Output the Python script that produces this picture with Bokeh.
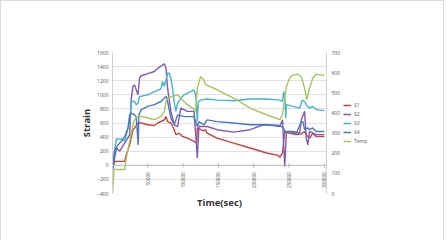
import math
from bokeh.plotting import figure
from bokeh.layouts import row
from bokeh.models import Range1d, LinearAxis, FixedTicker, Legend, LegendItem, Title, Span
from bokeh.core.properties import value
from bokeh.embed import file_html
from bokeh.resources import INLINE

# ---- data ----
s1_t = [0, 3300, 17300, 19600, 24300, 29000, 31300, 36000, 40700, 50000, 59300, 64000, 73400, 75700,
        78000, 82700, 87400, 89700, 94400, 99100, 106100, 115400, 119200, 120100, 124800, 129400, 131800,
        134100, 148100, 171500, 194900, 218200, 234600, 236900, 240700, 243900, 250900, 260300, 267300,
        272000, 274300, 279000, 283600, 288300, 300000]
s1_v = [-60, 55, 55, 150, 290, 505, 530, 600, 600, 575, 565, 600, 645, 690,
        620, 600, 505, 435, 455, 410, 385, 340, 315, 530, 505, 490, 505,
        455, 385, 315, 245, 175, 140, 113, 175, 480, 455, 435, 445,
        480, 435, 385, 455, 410, 410]

s2_t = [0, 5600, 10300, 24300, 26600, 29000, 31300, 33600, 36000, 38300, 40700, 50000, 59300, 64000,
        73400, 75700, 78000, 82700, 87400, 92100, 96700, 106100, 115400, 117800, 120100, 122400, 124800,
        134100, 148100, 171500, 194900, 213600, 227600, 236900, 240700, 243900, 246300, 255600, 265000,
        267300, 272000, 274300, 276600, 279000, 288300, 300000]
s2_v = [-60, 245, 200, 430, 950, 1120, 1140, 1070, 1000, 1235, 1270, 1300, 1330, 1375,
        1440, 1380, 1095, 765, 575, 550, 810, 765, 765, 435, 104, 560, 550,
        550, 505, 470, 505, 575, 565, 550, 645, -20, 480, 480, 455,
        645, 765, 385, 290, 480, 435, 435]

s3_t = [0, 3300, 5600, 15000, 17300, 22000, 24300, 26600, 31300, 33600, 36000, 38300, 50000, 59300,
        68700, 71000, 73400, 78000, 80400, 82700, 85000, 87400, 89700, 92100, 96700, 101400, 106100,
        110700, 115400, 117800, 119200, 120100, 121500, 124800, 134100, 148100, 171500, 194900, 218200,
        236900, 240700, 242500, 244400, 245300, 246300, 255600, 265000, 268700, 272000, 274300, 279000,
        283600, 288300, 300000]
s3_v = [-40, 245, 375, 365, 340, 530, 620, 905, 905, 860, 880, 975, 1000, 1045,
        1085, 1190, 1120, 1305, 1305, 1235, 1095, 905, 765, 880, 950, 1000, 1025,
        1045, 1070, 1000, 810, 620, 905, 925, 940, 925, 915, 940, 940,
        925, 905, 1045, 905, 670, 860, 835, 810, 925, 905, 860, 810,
        835, 790, 775]

s4_t = [0, 3300, 7900, 12600, 17300, 22000, 24300, 26600, 31300, 33600, 36400, 37400, 40700, 50000,
        59300, 68700, 75700, 78000, 82700, 87400, 92100, 101400, 115400, 120100, 122400, 129400, 134100,
        148100, 171500, 194900, 218200, 236900, 241600, 246300, 250900, 260300, 267300, 269600, 272000,
        276600, 279000, 283600, 288300, 300000]
s4_v = [-40, 220, 290, 340, 410, 530, 715, 740, 715, 690, 290, 715, 790, 835,
        860, 905, 975, 905, 670, 575, 715, 690, 690, 550, 620, 575, 645,
        620, 600, 575, 575, 565, 530, 455, 480, 455, 620, 620, 505,
        530, 505, 530, 480, 480]

temp_t = [0, 2300, 17300, 19600, 24300, 29000, 31300, 33600, 40700, 50000, 59300, 68700, 73400, 75700,
          78000, 85000, 92100, 96700, 101400, 106100, 113100, 117800, 120100, 124800, 129400, 131800,
          148100, 171500, 194900, 218200, 236900, 240700, 243900, 246300, 250900, 255600, 262600, 267300,
          272000, 275200, 279000, 283600, 288300, 295300, 300000]
temp_v = [0, 119, 119, 177, 259, 342, 367, 378, 383, 375, 367, 383, 408, 457,
          474, 482, 490, 474, 457, 441, 424, 408, 523, 581, 565, 540,
          515, 474, 424, 391, 367, 391, 474, 532, 573, 589, 592, 581,
          523, 466, 523, 573, 592, 589, 586]

x_ticks = [50000, 100000, 150000, 200000, 250000, 300000]
x_tick_labels = ["50000", "100000", "150000", "200000", "250000", "300000"]
strain_ticks = [-400, -200, 0, 200, 400, 600, 800, 1000, 1200, 1400, 1600]
temp_ticks = [0, 100, 200, 300, 400, 500, 600, 700]
series_names = ["S1", "S2", "S3", "S4", "Temp"]
colors = ["#C8413D", "#7F5BB5", "#45B3CF", "#4A78C0", "#A3C65A"]

series = [(s1_t, s1_v), (s2_t, s2_v), (s3_t, s3_v), (s4_t, s4_v), (temp_t, temp_v)]

FONT = "Open Sans"
GRAY = "#555555"

p = figure(frame_width=214, frame_height=141, x_range=Range1d(0, 303000), y_range=Range1d(-400, 1600),
           x_axis_location=None, output_backend="svg", toolbar_location=None,
           min_border_left=111, min_border_right=14, min_border_top=51, min_border_bottom=48)
p.outline_line_color = None
p.background_fill_color = "white"
p.border_fill_color = "white"
p.extra_y_ranges = {"temp": Range1d(0, 700)}
p.xgrid.visible = False

# left axis
ya = p.yaxis[0]
ya.ticker = FixedTicker(ticks=strain_ticks)
ya.axis_label = "Strain"
ya.axis_label_text_font = FONT
ya.axis_label_text_font_style = "bold"
ya.axis_label_text_font_size = "9.5px"
ya.axis_label_text_color = "#333333"
ya.axis_label_standoff = 1
ya.major_label_text_font = FONT
ya.major_label_text_font_size = "5px"
ya.major_label_text_color = GRAY
ya.axis_line_color = "#d0d0d0"
ya.major_tick_line_color = None
ya.major_tick_out = 0
ya.major_tick_in = 0
ya.minor_tick_line_color = None
ya.minor_tick_out = 0
ya.major_label_standoff = 4

p.ygrid[0].ticker = FixedTicker(ticks=strain_ticks)
p.ygrid[0].grid_line_color = "#e2e2e2"

# right axis
ra = LinearAxis(y_range_name="temp", ticker=FixedTicker(ticks=temp_ticks))
ra.major_label_text_font = FONT
ra.major_label_text_font_size = "5px"
ra.major_label_text_color = GRAY
ra.axis_line_color = "#d0d0d0"
ra.major_tick_line_color = None
ra.major_tick_out = 0
ra.major_tick_in = 0
ra.minor_tick_line_color = None
ra.minor_tick_out = 0
ra.major_label_standoff = 5
p.add_layout(ra, "right")

# horizontal axis crossing at strain = 0
p.add_layout(Span(location=0, dimension="width", line_color="#bdbdbd", line_width=1))
p.scatter(x_ticks, [0] * len(x_ticks), marker="dash", angle=math.pi / 2, size=5,
          line_color="#bdbdbd", line_width=1)
p.text(x=x_ticks, y=[0] * len(x_ticks), text=x_tick_labels, angle=math.pi / 2,
       text_align="right", text_baseline="middle", y_offset=7,
       text_font=value(FONT), text_font_size="4.6px", text_color=GRAY)

p.add_layout(Title(text="Time(sec)", align="center", text_font=FONT, text_font_style="bold",
                   text_font_size="9.5px", text_color="#333333", standoff=0), "below")

for (t, v), c in zip(series[:4], colors[:4]):
    p.line(t, v, line_color=c, line_width=1.4)
p.line(temp_t, temp_v, line_color=colors[4], line_width=1.4, y_range_name="temp")

# key panel: same series drawn on a range where they stay out of view, only the legend shows
lg = figure(width=100, height=240, x_range=Range1d(-2, -1), y_range=Range1d(-2, -1),
            x_axis_location=None, y_axis_location=None, output_backend="svg", toolbar_location=None,
            min_border=0, min_border_top=27)
lg.outline_line_color = None
lg.background_fill_color = "white"
lg.border_fill_color = "white"
lg.xgrid.visible = False
lg.ygrid.visible = False
key_renderers = [lg.line(t, v, line_color=c, line_width=1.4) for (t, v), c in zip(series, colors)]
legend = Legend(items=[LegendItem(label=n, renderers=[r]) for n, r in zip(series_names, key_renderers)],
                location="center_left")
legend.label_text_font = FONT
legend.label_text_font_size = "5px"
legend.label_text_color = GRAY
legend.glyph_width = 8
legend.glyph_height = 7
legend.label_height = 7
legend.spacing = 2
legend.label_standoff = 3
legend.padding = 1
legend.margin = 0
legend.border_line_color = None
legend.background_fill_alpha = 0
lg.add_layout(legend)

layout = row(p, lg, styles={"border": "1px solid #dcdcdc", "box-sizing": "border-box"})

open("out.html", "w").write(file_html(layout, INLINE))
